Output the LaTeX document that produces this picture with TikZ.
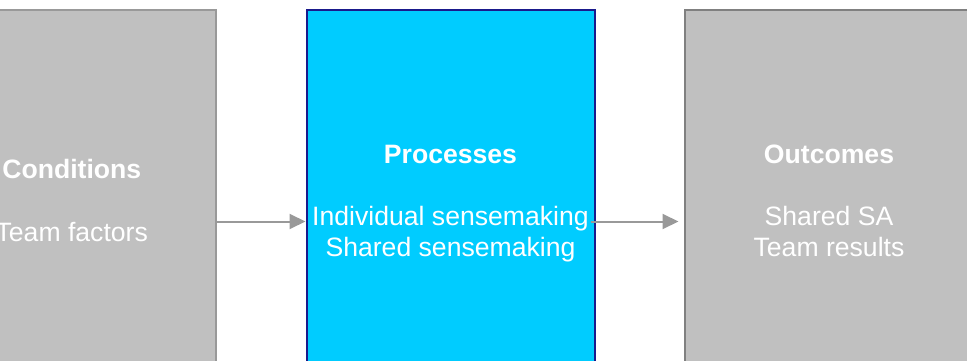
\documentclass[tikz,border=0pt]{standalone}
\usepackage{fontspec}
\setmainfont{Liberation Sans}
\usetikzlibrary{arrows.meta}

\definecolor{boxgray}{HTML}{C0C0C0}
\definecolor{edgegray}{HTML}{999999}
\definecolor{darkgray}{HTML}{808080}
\definecolor{procblue}{HTML}{00CCFF}
\definecolor{procedge}{HTML}{1A1A8C}

\begin{document}
\begin{tikzpicture}[x=1pt,y=1pt,
        stagebox/.style={rectangle, minimum width=289pt, minimum height=380pt, inner sep=0pt,
            line width=2pt, align=center, text=white,
            font=\fontsize{26.6}{31.2}\selectfont},
        flow/.style={-{Triangle[length=16pt,width=15pt]}, line width=2pt, edgegray}]

        \useasboundingbox (0,0) rectangle (967,-361);
        \clip (0,0) rectangle (967,-361);

        % boxes
        \node[stagebox, fill=boxgray, draw=edgegray] (cond) at (71.75,-200.5) {\textbf{Conditions}\\[31pt]Team factors};
        \node[stagebox, fill=procblue, draw=procedge, minimum width=288pt, minimum height=387pt] (proc) at (450.5,-203.5) {\textbf{Processes}\\[31pt]Individual sensemaking\\Shared sensemaking};
        \node[stagebox, fill=boxgray, draw=darkgray, minimum height=382pt] (outc) at (829,-201) {\textbf{Outcomes}\\[31pt]Shared SA\\Team results};

        % arrows
        \draw[flow] ([yshift=-21pt]cond.east) -- ([yshift=-18pt]proc.west);
        \draw[flow] ([xshift=-5pt,yshift=-18pt]proc.east) -- ([xshift=-5pt,yshift=-20.5pt]outc.west);
    \end{tikzpicture}
\end{document}
